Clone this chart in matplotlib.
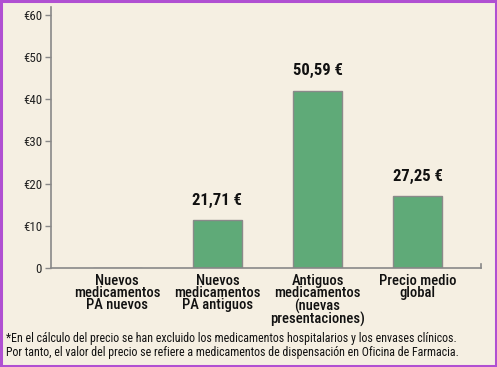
import matplotlib.pyplot as plt
from matplotlib.patches import Rectangle

# categories, bar heights as drawn, and the printed labels
categories = ['Nuevos\nmedicamentos\nPA nuevos',
              'Nuevos\nmedicamentos\nPA antiguos',
              'Antiguos\nmedicamentos\n(nuevas\npresentaciones)',
              'Precio medio\nglobal']
bar_heights = [0, 11.3, 42.0, 17.1]
bar_labels = ['', '21,71 €', '50,59 €', '27,25 €']
yticks = [0, 10, 20, 30, 40, 50, 60]
ytick_labels = ['0', '€10', '€20', '€30', '€40', '€50', '€60']
footnote = ('*En el cálculo del precio se han excluido los medicamentos hospitalarios y los envases clínicos.\n'
            'Por tanto, el valor del precio se refiere a medicamentos de dispensación en Oficina de Farmacia.')

bg = '#f5efe2'
fonts = ['Roboto Condensed', 'DejaVu Sans']

fig = plt.figure(figsize=(4.97, 3.67), dpi=100, facecolor=bg)
ax = fig.add_axes([0.1026, 0.2698, 0.8652, 0.711])
ax.set_facecolor(bg)

x = range(len(categories))
ax.bar(x, bar_heights, width=0.49, color='#5faa78', edgecolor='#8a8a8a', linewidth=1)
for i, (h, lab) in enumerate(zip(bar_heights, bar_labels)):
    if lab:
        ax.text(i, h + 2.9, lab, ha='center', va='bottom', fontsize=12, fontweight='bold',
                family=fonts, color='#111111')

ax.set_xlim(-0.66, 3.63)
ax.set_ylim(0, 61.8)
ax.set_yticks(yticks)
ax.set_yticklabels(ytick_labels, family=fonts, fontsize=9.3, color='#222222')
ax.set_xticks(list(x))
ax.set_xticklabels(categories, family=fonts, fontsize=10.5, fontweight='medium', color='#111111',
                   linespacing=0.86, va='top')
ax.tick_params(axis='x', length=0, pad=4)
ax.tick_params(axis='y', length=4, width=1, color='#888888', pad=2.5)

for s in ['top', 'right']:
    ax.spines[s].set_visible(False)
for s in ['left', 'bottom']:
    ax.spines[s].set_color('#888888')
    ax.spines[s].set_linewidth(1.2)
ax.plot([1, 1], [0, 0.015], transform=ax.transAxes, color='#888888', lw=1.2, clip_on=False)

fig.text(0.012, 0.022, footnote, ha='left', va='bottom', fontsize=8.6, family=fonts,
         color='#111111', linespacing=1.1)

fig.patches.append(Rectangle((0.002, 0.003), 0.996, 0.994, transform=fig.transFigure,
                             fill=False, edgecolor='#b050d2', linewidth=2.2))

fig.savefig('out.png', dpi=100, facecolor=bg)
